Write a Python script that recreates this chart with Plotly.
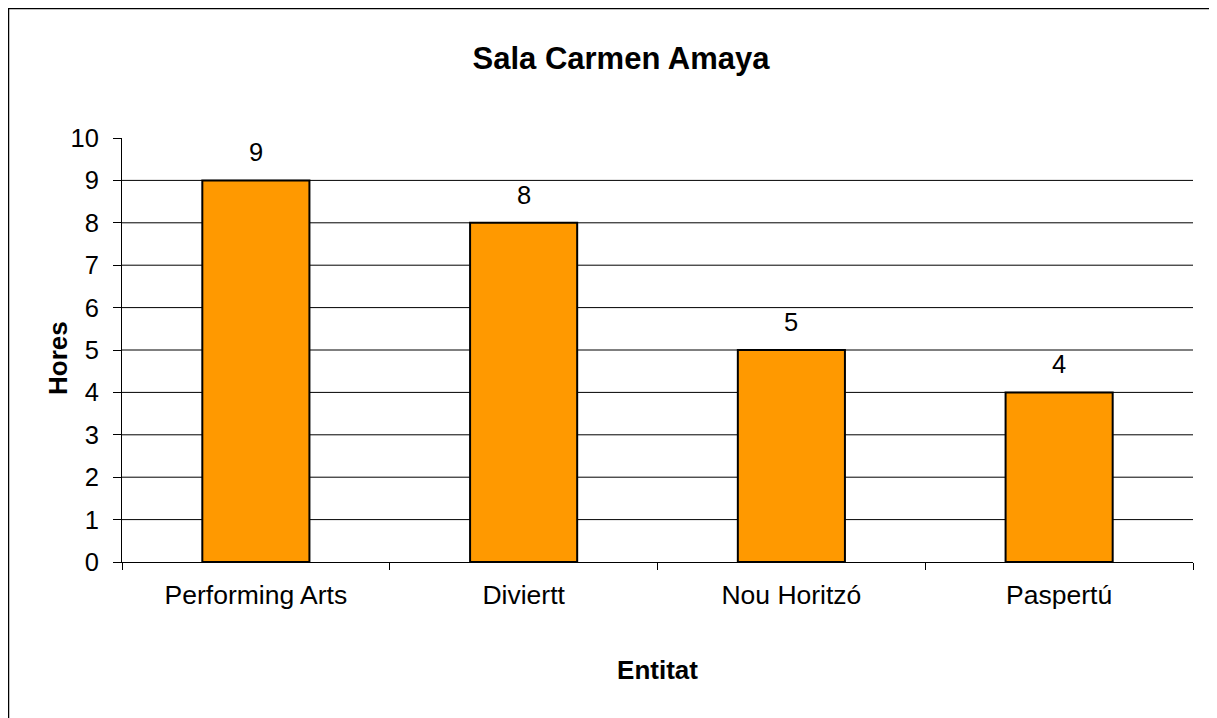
import plotly.graph_objects as go

categories = ["Performing Arts", "Diviertt", "Nou Horitzó", "Paspertú"]
hores = [9, 8, 5, 4]
ytick_vals = list(range(0, 11))

O = 8  # page body margin offset
W, H = 1217 - O, 718 - O
L, R, T, B = 122 - O, 24, 138 - O, 156
pw, ph = W - L - R, H - T - B

def px_x(px):
    return (px - O - L) / pw

def px_y(py):
    return (H - B - (py - O)) / ph

FONT = "Liberation Sans, Arial, sans-serif"

fig = go.Figure(go.Bar(
    x=categories, y=hores,
    marker=dict(color="#FF9900", line=dict(color="#000000", width=2)),
    width=0.4,
    cliponaxis=False,
))

shapes = []
for v in ytick_vals[1:-1]:
    shapes.append(dict(type="line", xref="paper", yref="y", x0=0, x1=1, y0=v, y1=v,
                       line=dict(color="#000000", width=1), layer="below"))
shapes.append(dict(type="rect", xref="paper", yref="paper",
                   x0=px_x(8.5), x1=px_x(1240), y0=px_y(8.5), y1=px_y(740),
                   line=dict(color="#000000", width=1.5), layer="below"))

annotations = [dict(x=c, y=v, xref="x", yref="y", text=str(v), showarrow=False,
                    yanchor="bottom", yshift=12,
                    font=dict(family=FONT, size=25.5, color="#000000"))
               for c, v in zip(categories, hores)]
annotations.append(dict(x=px_x(58), y=px_y(358), xref="paper", yref="paper",
                        text="<b>Hores</b>", textangle=-90, showarrow=False,
                        xanchor="center", yanchor="middle",
                        font=dict(family=FONT, size=26, color="#000000")))

fig.update_layout(
    width=W, height=H,
    margin=dict(l=L, r=R, t=T, b=B),
    paper_bgcolor="white", plot_bgcolor="white",
    showlegend=False,
    title=dict(text="<b>Sala Carmen Amaya</b>", x=(621 - O) / W, xanchor="center",
               y=1 - (58 - O) / H, yanchor="middle",
               font=dict(family=FONT, size=31, color="#000000")),
    font=dict(family=FONT, size=25, color="#000000"),
    shapes=shapes,
    annotations=annotations,
    xaxis=dict(showline=True, linecolor="#000000", linewidth=1,
               ticks="outside", tickson="boundaries", ticklen=7, tickcolor="#000000",
               showgrid=False, tickfont=dict(size=26.5), ticklabelstandoff=9,
               title=dict(text="<b>Entitat</b>", font=dict(size=26), standoff=52)),
    yaxis=dict(range=[0, 10], tickvals=ytick_vals, showline=True, linecolor="#000000",
               linewidth=1, ticks="outside", ticklen=8, tickcolor="#000000",
               showgrid=False, zeroline=False, tickfont=dict(size=25.5),
               ticklabelstandoff=9, automargin=False),
)

fig.write_html("out.html")
